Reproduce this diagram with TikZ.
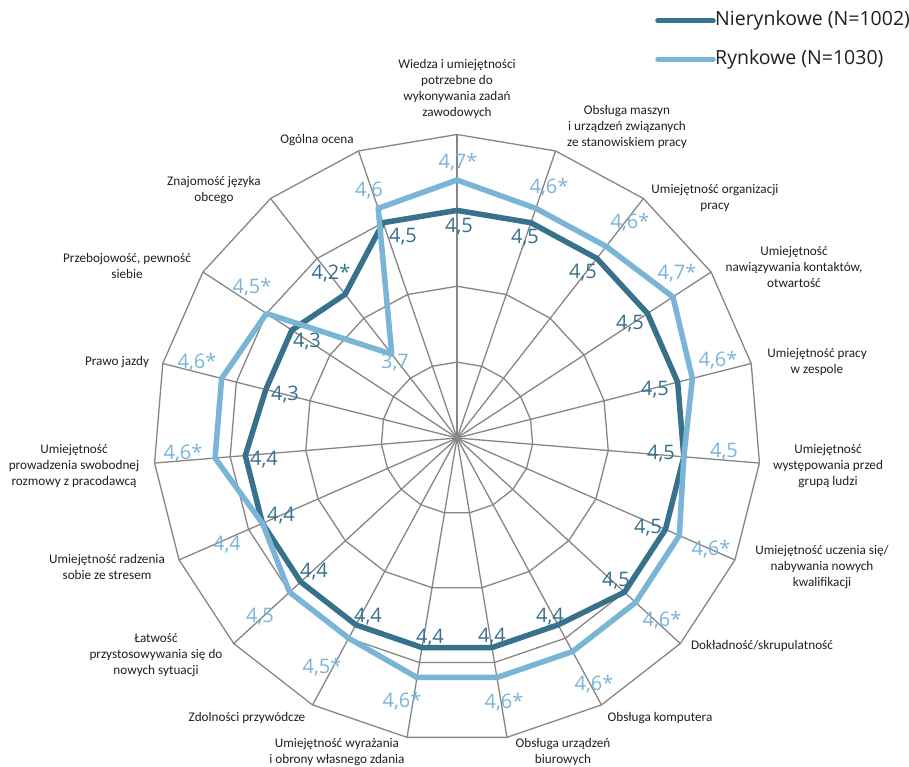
\documentclass[tikz,border=0pt]{standalone}
\usepackage{fontspec}
\setmainfont{Carlito}
\newfontfamily\valuefont{Open Sans}
\definecolor{gridgray}{RGB}{134,134,134}
\definecolor{nierynk}{RGB}{55,113,140}
\definecolor{rynk}{RGB}{122,181,215}
\definecolor{labeltext}{RGB}{32,32,32}
\begin{document}
\begin{tikzpicture}[x=1pt,y=1pt,
  gridline/.style={draw=gridgray, line width=1.3pt, line join=miter},
  series/.style={line width=5.5pt, line join=round},
  axislabel/.style={font=\fontsize{13.2}{16}\selectfont, text=labeltext, align=center, inner sep=0pt},
  vallab/.style={font=\valuefont\fontsize{20}{24}\selectfont, inner sep=0pt},
  legendtext/.style={font=\valuefont\fontsize{19.5}{24}\selectfont, text=labeltext, anchor=west, inner sep=0pt},
  legendline/.style={line width=5.5pt, line cap=round}]
\useasboundingbox (0,-766) rectangle (909,0);
\fill[white] (0,-766) rectangle (909,0);

% centre of the radar and outer radius (value 5.0)
\coordinate (c) at (457,-438);
\def\Rmax{303.5}

\begin{scope}[shift={(c)}]
  % concentric rings for 3.5, 4.0, 4.5, 5.0
  \foreach \f in {0.25,0.5,0.75,1}
    \draw[gridline] (90:{\f*\Rmax}) \foreach \k in {1,...,18} { -- ({90-\k*360/19}:{\f*\Rmax}) } -- cycle;
  % spokes
  \foreach \k in {0,...,18}
    \draw[gridline] (0,0) -- ({90-\k*360/19}:\Rmax);

  % data points (scale 3.0 at centre, 5.0 on the outer ring)
  \foreach \v [count=\k from 0] in {4.5,4.5,4.5,4.5,4.5,4.5,4.5,4.5,4.4,4.4,4.4,4.4,4.4,4.4,4.4,4.3,4.3,4.2,4.5}
    \coordinate (n\k) at ({90-\k*360/19}:{(\v-3)/2*\Rmax});
  \foreach \v [count=\k from 0] in {4.7,4.6,4.6,4.7,4.6,4.5,4.6,4.6,4.6,4.6,4.6,4.5,4.5,4.4,4.6,4.6,4.5,3.7,4.6}
    \coordinate (r\k) at ({90-\k*360/19}:{(\v-3)/2*\Rmax});

  \draw[series, nierynk] (n0) \foreach \k in {1,...,18} { -- (n\k) } -- cycle;
  \draw[series, rynk] (r0) \foreach \k in {1,...,18} { -- (r\k) } -- cycle;
\end{scope}

% category labels
\node[axislabel] (a0)  at (457,-89)  {Wiedza i umiejętności\\potrzebne do\\wykonywania zadań\\zawodowych};
\node[axislabel] (a1)  at (627,-127) {Obsługa maszyn\\i urządzeń związanych\\ze stanowiskiem pracy};
\node[axislabel] (a2)  at (715,-198) {Umiejętność organizacji\\pracy};
\node[axislabel] (a3)  at (794,-267) {Umiejętność\\nawiązywania kontaktów,\\otwartość};
\node[axislabel] (a4)  at (817,-362) {Umiejętność pracy\\w zespole};
\node[axislabel] (a5)  at (828,-466) {Umiejętność\\występowania przed\\grupą ludzi};
\node[axislabel] (a6)  at (822,-567) {Umiejętność uczenia się/\\nabywania nowych\\kwalifikacji};
\node[axislabel] (a7)  at (762,-646) {Dokładność/skrupulatność};
\node[axislabel] (a8)  at (660,-718) {Obsługa komputera};
\node[axislabel] (a9)  at (563,-752) {Obsługa urządzeń\\biurowych};
\node[axislabel] (a10) at (337,-752) {Umiejętność wyrażania\\i obrony własnego zdania};
\node[axislabel] (a11) at (247,-718) {Zdolności przywódcze};
\node[axislabel] (a12) at (156,-655) {Łatwość\\przystosowywania się do\\nowych sytuacji};
\node[axislabel] (a13) at (107,-567) {Umiejętność radzenia\\sobie ze stresem};
\node[axislabel] (a14) at (74,-466)  {Umiejętność\\prowadzenia swobodnej\\rozmowy z pracodawcą};
\node[axislabel] (a15) at (117,-362) {Prawo jazdy};
\node[axislabel] (a16) at (127,-266) {Przebojowość, pewność\\siebie};
\node[axislabel] (a17) at (214,-190) {Znajomość języka\\obcego};
\node[axislabel] (a18) at (317,-140) {Ogólna ocena};

% values: Rynkowe
\begin{scope}[every node/.style={vallab, text=rynk}]
\node (vr0)  at (458,-162) {4,7*};
\node (vr1)  at (549,-187) {4,6*};
\node (vr2)  at (630,-222) {4,6*};
\node (vr3)  at (677,-273) {4,7*};
\node (vr4)  at (718,-360) {4,6*};
\node (vr5)  at (724,-452) {4,5};
\node (vr6)  at (711,-549) {4,6*};
\node (vr7)  at (662,-620) {4,6*};
\node (vr8)  at (594,-684) {4,6*};
\node (vr9)  at (504,-702) {4,6*};
\node (vr10) at (402,-701) {4,6*};
\node (vr11) at (322,-667) {4,5*};
\node (vr12) at (260,-617) {4,5};
\node (vr13) at (227,-545) {4,4};
\node (vr14) at (183,-453) {4,6*};
\node (vr15) at (197,-362) {4,6*};
\node (vr16) at (252,-287) {4,5*};
\node (vr17) at (395,-363) {3,7};
\node (vr18) at (369,-191) {4,6};
\end{scope}

% values: Nierynkowe
\begin{scope}[every node/.style={vallab, text=nierynk}]
\node (vn0)  at (459,-227) {4,5};
\node (vn1)  at (525,-238) {4,5};
\node (vn2)  at (583,-273) {4,5};
\node (vn3)  at (630,-324) {4,5};
\node (vn4)  at (655,-390) {4,5};
\node (vn5)  at (661,-454) {4,5};
\node (vn6)  at (648,-528) {4,5};
\node (vn7)  at (616,-581) {4,5};
\node (vn8)  at (550,-617) {4,4};
\node (vn9)  at (492,-637) {4,4};
\node (vn10) at (430,-638) {4,4};
\node (vn11) at (368,-617) {4,4};
\node (vn12) at (314,-572) {4,4};
\node (vn13) at (281,-516) {4,4};
\node (vn14) at (264,-460) {4,4};
\node (vn15) at (285,-395) {4,3};
\node (vn16) at (307,-342) {4,3};
\node (vn17) at (331,-273) {4,2*};
\node (vn18) at (403,-237) {4,5};
\end{scope}

% legend
\coordinate (l1a) at (658,-20.7);
\coordinate (l1b) at (713,-20.7);
\coordinate (l2a) at (658,-59.3);
\coordinate (l2b) at (713,-59.3);
\draw[legendline, nierynk] (l1a) -- (l1b);
\draw[legendline, rynk] (l2a) -- (l2b);
\node[legendtext] (leg1) at (715,-20.7) {Nierynkowe (N=1002)};
\node[legendtext] (leg2) at (715,-59.3) {Rynkowe (N=1030)};
\end{tikzpicture}
\end{document}
